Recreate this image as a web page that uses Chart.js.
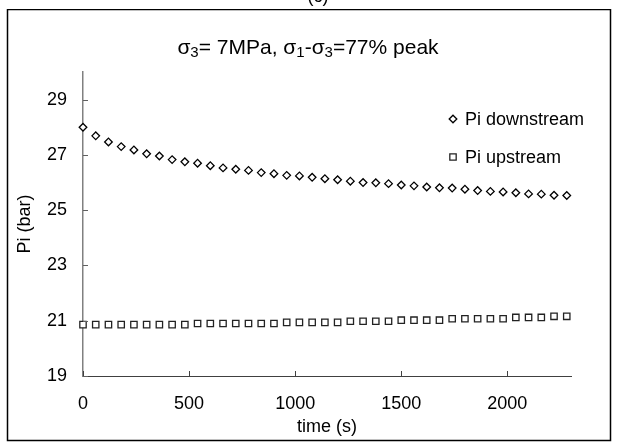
<!DOCTYPE html>
<html><head><meta charset="utf-8">
<script src="https://cdn.jsdelivr.net/npm/chart.js@4/dist/chart.umd.min.js"></script>
<style>html,body{margin:0;padding:0;background:#fff}#wrap{width:618px;height:446px}</style>
</head><body><div id="wrap"><canvas id="c" width="618" height="446"></canvas></div>
<script>
const timeSeconds = [0,60,120,180,240,300,360,420,480,540,600,660,720,780,840,900,960,1020,1080,1140,1200,1260,1320,1380,1440,1500,1560,1620,1680,1740,1800,1860,1920,1980,2040,2100,2160,2220,2280];
const piDownstream = [28.00,27.69,27.47,27.30,27.18,27.04,26.96,26.83,26.75,26.70,26.61,26.53,26.48,26.44,26.36,26.32,26.26,26.24,26.19,26.14,26.10,26.05,26.00,25.99,25.96,25.91,25.88,25.84,25.81,25.80,25.76,25.71,25.68,25.66,25.63,25.59,25.58,25.54,25.53];
const piUpstream = [20.86,20.86,20.86,20.86,20.86,20.86,20.86,20.86,20.86,20.90,20.90,20.90,20.90,20.90,20.90,20.90,20.94,20.94,20.94,20.94,20.94,20.98,20.98,20.98,20.98,21.02,21.02,21.02,21.02,21.07,21.07,21.07,21.07,21.07,21.12,21.12,21.12,21.16,21.16];
const xTicks = [0,500,1000,1500,2000];
const yTicks = [19,21,23,25,27,29];
const seriesNames = ['Pi downstream','Pi upstream'];

const FONT = '"Liberation Sans", Arial, sans-serif';

const decor = {
  id: 'decor',
  beforeDraw(chart) {
    const ctx = chart.ctx;
    ctx.save();
    ctx.fillStyle = '#fff';
    ctx.fillRect(0, 0, chart.width, chart.height);
    ctx.strokeStyle = '#000';
    ctx.lineWidth = 1.5;
    ctx.strokeRect(7.5, 9.5, 603, 431);
    ctx.fillStyle = '#000';
    ctx.font = '18px ' + FONT;
    ctx.textAlign = 'center';
    ctx.textBaseline = 'alphabetic';
    ctx.fillText('(c)', 318, 2);
    ctx.fillStyle = '#fff';
    ctx.fillRect(0, 8, chart.width, 1);
    const parts = [['σ',0],['3',1],['= 7MPa, σ',0],['1',1],['-σ',0],['3',1],['=77% peak',0]];
    const big = '21px ' + FONT, small = '15px ' + FONT;
    let w = 0;
    parts.forEach(p => { ctx.font = p[1] ? small : big; w += ctx.measureText(p[0]).width; });
    let x = 308 - w / 2;
    const base = 54;
    ctx.fillStyle = '#000';
    ctx.textAlign = 'left';
    parts.forEach(p => {
      ctx.font = p[1] ? small : big;
      ctx.fillText(p[0], x, base + (p[1] ? 3 : 0));
      x += ctx.measureText(p[0]).width;
    });
    ctx.restore();
  },
  afterDraw(chart) {
    const ctx = chart.ctx;
    const xs = chart.scales.x, ys = chart.scales.y;
    const a = chart.chartArea;
    ctx.save();
    ctx.lineWidth = 1;
    ctx.strokeStyle = '#404040';
    xTicks.forEach(v => {
      const px = Math.round(xs.getPixelForValue(v)) + 0.5;
      ctx.beginPath(); ctx.moveTo(px, a.bottom); ctx.lineTo(px, a.bottom - 5); ctx.stroke();
    });
    ctx.strokeStyle = '#606060';
    yTicks.forEach(v => {
      const py = Math.round(ys.getPixelForValue(v)) + 0.5;
      ctx.beginPath(); ctx.moveTo(a.left, py); ctx.lineTo(a.left + 5, py); ctx.stroke();
    });
    ctx.font = '18px ' + FONT;
    ctx.fillStyle = '#000';
    ctx.textAlign = 'left';
    ctx.textBaseline = 'middle';
    const ly = [119, 157];
    chart.data.datasets.forEach((ds, i) => {
      ctx.strokeStyle = ds.borderColor;
      ctx.fillStyle = '#fff';
      ctx.lineWidth = ds.borderWidth;
      Chart.helpers.drawPoint(ctx, {pointStyle: ds.pointStyle, radius: ds.pointRadius, borderWidth: ds.borderWidth}, 453, ly[i]);
      ctx.fillStyle = '#000';
      ctx.fillText(seriesNames[i], 465, ly[i] + 1);
    });
    ctx.restore();
  }
};

new Chart(document.getElementById('c'), {
  type: 'scatter',
  data: {
    datasets: [
      {
        label: seriesNames[0],
        data: timeSeconds.map((t, i) => ({x: t, y: piDownstream[i]})),
        pointStyle: 'rectRot', pointRadius: 3.8, borderWidth: 1.3,
        borderColor: '#000', backgroundColor: '#fff', showLine: false, clip: false
      },
      {
        label: seriesNames[1],
        data: timeSeconds.map((t, i) => ({x: t, y: piUpstream[i]})),
        pointStyle: 'rect', pointRadius: 4.5, borderWidth: 1.3,
        borderColor: '#222', backgroundColor: '#fff', showLine: false, clip: false
      }
    ]
  },
  options: {
    responsive: false,
    animation: false,
    devicePixelRatio: 1,
    layout: {padding: {top: 72, right: 47, left: 0, bottom: 0}},
    plugins: {legend: {display: false}, tooltip: {enabled: false}, title: {display: false}},
    scales: {
      x: {
        type: 'linear', min: 0, max: 2300,
        afterBuildTicks: s => { s.ticks = xTicks.map(v => ({value: v})); },
        afterFit: s => { s.height = 70; },
        grid: {display: false, drawTicks: false},
        border: {display: true, color: '#404040', width: 1},
        ticks: {color: '#000', font: {family: FONT, size: 18}, padding: 17, maxRotation: 0, callback: v => String(v)},
        title: {display: true, text: 'time (s)', color: '#000', font: {family: FONT, size: 18}, padding: {top: 0, bottom: 8}}
      },
      y: {
        type: 'linear', min: 19, max: 30,
        afterBuildTicks: s => { s.ticks = yTicks.map(v => ({value: v})); },
        afterFit: s => { s.width = 83; },
        grid: {display: false, drawTicks: false},
        border: {display: true, color: '#808080', width: 1.5},
        ticks: {color: '#000', font: {family: FONT, size: 18}, padding: 16, callback: v => String(v)},
        title: {display: true, text: 'Pi (bar)', color: '#000', font: {family: FONT, size: 18}, padding: {top: 14, bottom: 0}}
      }
    }
  },
  plugins: [decor]
});
</script></body></html>
